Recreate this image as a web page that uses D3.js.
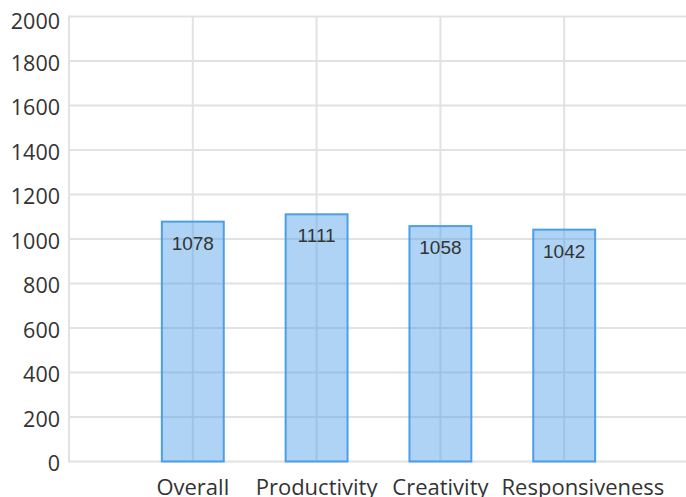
<!DOCTYPE html>
<html>
<head>
<meta charset="utf-8">
<script src="https://cdn.jsdelivr.net/npm/d3@7"></script>
<style>
  body { margin: 0; background: #fff; }
  svg { display: block; }
</style>
</head>
<body>
<div id="chart"></div>
<script>
var categories = ["Overall", "Productivity", "Creativity", "Responsiveness"];
var values = [1078, 1111, 1058, 1042];
var yTicks = [0, 200, 400, 600, 800, 1000, 1200, 1400, 1600, 1800, 2000];

var width = 686, height = 497;
var plotLeft = 69, plotRight = 688, plotTop = 16.5, plotBottom = 461.5;
var labelFont = "'Open Sans', 'Noto Sans', sans-serif";

var svg = d3.select("#chart").append("svg")
    .attr("width", width)
    .attr("height", height);

var x = d3.scalePoint().domain(categories).range([plotLeft, plotRight]).padding(1);
var y = d3.scaleLinear().domain([0, 2000]).range([plotBottom, plotTop]);
var barW = x.step() / 2;

// horizontal grid
svg.append("g").selectAll("line")
    .data(yTicks)
    .enter().append("line")
    .attr("x1", plotLeft).attr("x2", width)
    .attr("y1", d => y(d)).attr("y2", d => y(d))
    .attr("stroke", "#e2e2e2")
    .attr("stroke-width", 2);

// vertical grid
svg.append("g").selectAll("line")
    .data(categories)
    .enter().append("line")
    .attr("x1", d => x(d)).attr("x2", d => x(d))
    .attr("y1", plotTop).attr("y2", plotBottom)
    .attr("stroke", "#e2e2e2")
    .attr("stroke-width", 2);

// left axis line
svg.append("line")
    .attr("x1", plotLeft).attr("x2", plotLeft)
    .attr("y1", plotTop - 1).attr("y2", plotBottom + 1)
    .attr("stroke", "#e2e2e2")
    .attr("stroke-width", 2);

// y tick labels
svg.append("g").selectAll("text")
    .data(yTicks)
    .enter().append("text")
    .attr("x", 60)
    .attr("y", d => Math.max(y(d) + 2, 21))
    .attr("dy", "0.36em")
    .attr("text-anchor", "end")
    .style("font-family", labelFont)
    .style("font-size", "21.5px")
    .style("fill", "#333")
    .text(d => d);

// bars
svg.append("g").selectAll("rect")
    .data(values)
    .enter().append("rect")
    .attr("x", (d, i) => x(categories[i]) - barW / 2)
    .attr("y", d => y(d))
    .attr("width", barW)
    .attr("height", d => plotBottom - y(d))
    .attr("fill", "rgba(70,155,232,0.44)")
    .attr("stroke", "#4a9fe8")
    .attr("stroke-width", 2);

// bar labels
svg.append("g").selectAll("text")
    .data(values)
    .enter().append("text")
    .attr("x", (d, i) => x(categories[i]))
    .attr("y", d => y(d) + 28)
    .attr("text-anchor", "middle")
    .style("font-family", "'Liberation Sans', Arial, sans-serif")
    .style("font-size", "19px")
    .style("fill", "#333")
    .text(d => d);

// x labels, nudged right when they would run into the previous one
var xLabels = svg.append("g").selectAll("text")
    .data(categories)
    .enter().append("text")
    .attr("x", d => x(d))
    .attr("y", 495)
    .attr("text-anchor", "middle")
    .style("font-family", labelFont)
    .style("font-size", "22px")
    .style("fill", "#333")
    .text(d => d);

var prevRight = -Infinity;
xLabels.each(function(d) {
    var w = this.getComputedTextLength();
    var cx = x(d);
    if (cx - w / 2 < prevRight + 13) {
        cx = prevRight + 13 + w / 2;
        d3.select(this).attr("x", cx);
    }
    prevRight = cx + w / 2;
});
</script>
</body>
</html>
